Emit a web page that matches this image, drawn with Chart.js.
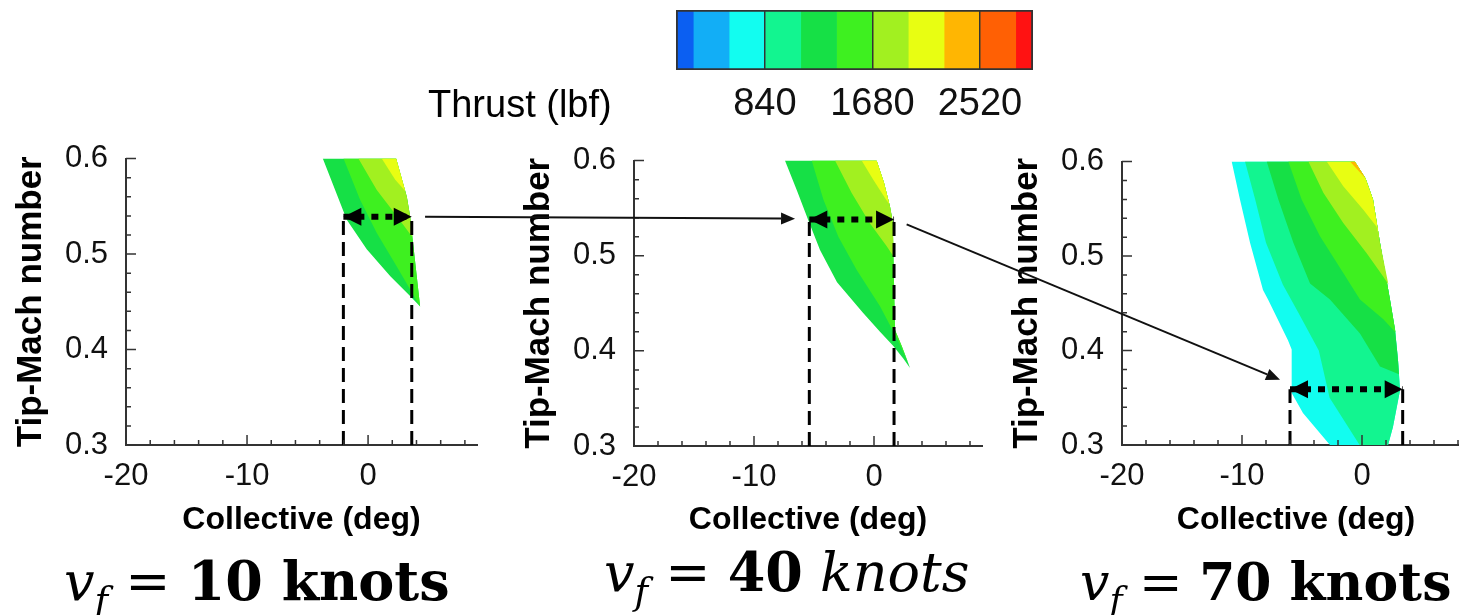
<!DOCTYPE html>
<html>
<head>
<meta charset="utf-8">
<script src="https://cdn.jsdelivr.net/npm/chart.js@4.4.1/dist/chart.umd.min.js"></script>
<style>
  html, body { margin: 0; padding: 0; background: #fff; }
  body { position: relative; width: 1459px; height: 615px; overflow: hidden; }
  canvas { position: absolute; }
  .lbl { position: absolute; white-space: nowrap; color: #000; }
  .vf { font-family: 'DejaVu Serif', serif; font-size: 54px; line-height: 1; }
  .vf sub { font-size: 0.68em; vertical-align: -0.35em; }
</style>
</head>
<body>
<canvas id="cbar" style="left:420px;top:0px" width="640" height="125"></canvas>
<div class="lbl" style="left:428px;top:83px;font:38px 'Liberation Sans', Arial, sans-serif;">Thrust (lbf)</div>

<canvas id="p1" style="left:0px;top:122px" width="490" height="418"></canvas>
<canvas id="p2" style="left:500px;top:124px" width="490" height="416"></canvas>
<canvas id="p3" style="left:1000px;top:125px" width="480" height="415"></canvas>
<canvas id="overlay" style="left:0px;top:0px;pointer-events:none" width="1459" height="615"></canvas>

<div class="lbl vf" style="left:64px;top:554px"><i>v</i><sub><i>f</i></sub> = <b>10 knots</b></div>
<div class="lbl vf" style="left:604px;top:545px"><i>v</i><sub><i>f</i></sub> = <b>40</b> <i>knots</i></div>
<div class="lbl vf" style="left:1080px;top:556px;font-size:52px"><i>v</i><sub><i>f</i></sub> = <b>70 knots</b></div>

<script>
Chart.defaults.font.family = "'Liberation Sans', Arial, sans-serif";

// colour legend (thrust, lbf)
const thrustEdges = [145, 280, 560, 840, 1120, 1400, 1680, 1960, 2240, 2520, 2800, 2935];
const thrustColors = ['#0b5ff2', '#12aef6', '#12fdf0', '#12f590', '#16e046', '#3ef020',
                      '#a2f020', '#e8fe12', '#ffb602', '#ff6004', '#ff1212'];
const thrustTicks = [840, 1680, 2520];

// axes
const xTicks = [-20, -10, 0];
const xMinor = [-18, -16, -14, -12, -8, -6, -4, -2, 2, 4, 6, 8];
const yTicks = [0.3, 0.4, 0.5, 0.6];
const yMinor = [0.32, 0.34, 0.36, 0.38, 0.42, 0.44, 0.46, 0.48, 0.52, 0.54, 0.56, 0.58];

// contour regions [collective, tip Mach] : region where thrust >= level
const p1Level4 = [[-3.74,0.6],[2.32,0.6],[3.2,0.56],[3.47,0.54],[4.3,0.445],[3.47,0.456],[1.82,0.477],[-0.11,0.505],[-1.76,0.536]];
const p1Level5 = [[-2.03,0.6],[2.32,0.6],[3.2,0.56],[3.47,0.54],[4.3,0.445],[2.37,0.487],[0.72,0.522],[-0.66,0.557]];
const p1Level6 = [[-0.8,0.6],[2.32,0.6],[3.2,0.56],[3.47,0.54],[3.65,0.518],[2.37,0.54],[0.72,0.567]];
const p1Level7 = [[1.13,0.6],[2.32,0.6],[3.07,0.566],[2.23,0.578]];

const p2Level4 = [[-7.42,0.6],[0.22,0.6],[0.83,0.577],[1.33,0.552],[1.56,0.536],[1.67,0.471],[1.75,0.422],[2.31,0.405],[2.86,0.387],[3.0,0.382],[2.44,0.392],[1.61,0.405],[0.5,0.42],[-0.92,0.44],[-3.08,0.472],[-4.5,0.506],[-5.5,0.538],[-6.44,0.569]];
const p2Level5 = [[-5.19,0.6],[0.22,0.6],[0.83,0.577],[1.33,0.552],[1.56,0.536],[1.67,0.471],[1.75,0.422],[2.31,0.405],[2.86,0.387],[2.0,0.411],[0.5,0.447],[-1.44,0.485],[-2.97,0.52],[-4.22,0.559]];
const p2Level6 = [[-3.25,0.6],[0.22,0.6],[0.83,0.577],[1.33,0.552],[1.56,0.536],[1.64,0.499],[1.06,0.51],[-0.33,0.534],[-1.86,0.566]];
const p2Level7 = [[-1.03,0.6],[0.22,0.6],[0.83,0.577],[1.28,0.554],[1.0,0.559],[-0.06,0.58]];

const p3Level2 = [[-10.86,0.6],[-0.6,0.6],[0.3,0.582],[0.92,0.56],[1.5,0.514],[2.33,0.454],[2.75,0.422],[3.0,0.39],[3.17,0.358],[2.58,0.319],[2.17,0.3],[-2.67,0.3],[-4.92,0.334],[-5.86,0.355],[-5.86,0.401],[-6.17,0.411],[-7.83,0.454],[-8.25,0.464],[-9.33,0.514],[-10.17,0.56]];
const p3Level3 = [[-9.75,0.6],[-0.6,0.6],[0.3,0.582],[0.92,0.56],[1.5,0.514],[2.33,0.454],[2.75,0.422],[3.0,0.39],[3.17,0.358],[2.58,0.319],[2.17,0.3],[-0.2,0.3],[-2.7,0.35],[-3.6,0.4],[-5.3,0.44],[-6.6,0.47],[-8.0,0.514],[-8.9,0.56]];
const p3Level4 = [[-7.94,0.6],[-0.6,0.6],[0.3,0.582],[0.92,0.56],[1.5,0.514],[2.33,0.454],[2.75,0.422],[3.0,0.39],[3.08,0.375],[1.5,0.383],[-0.17,0.418],[-2.67,0.454],[-4.33,0.471],[-5.72,0.514],[-6.97,0.56]];
const p3Level5 = [[-6.14,0.6],[-0.6,0.6],[0.3,0.582],[0.92,0.56],[1.5,0.514],[2.33,0.454],[2.8,0.419],[1.78,0.433],[-0.17,0.454],[-1.56,0.482],[-3.5,0.521],[-5.03,0.56]];
const p3Level6 = [[-4.47,0.6],[-0.6,0.6],[0.3,0.582],[0.92,0.56],[1.5,0.514],[2.2,0.47],[1.78,0.478],[0.39,0.503],[-1.56,0.535],[-3.22,0.567]];
const p3Level7 = [[-2.94,0.6],[-0.6,0.6],[0.3,0.582],[0.92,0.56],[1.45,0.518],[1.22,0.531],[0.11,0.549],[-1.56,0.574]];
const p3Level8 = [[-1.0,0.6],[-0.6,0.6],[0.3,0.582]];

// collective ranges marked at a given tip Mach
const p1Range = [-2.04, 3.61], p1Mach = 0.539;
const p2Range = [-5.39, 1.67], p2Mach = 0.538;
const p3Range = [-6.0, 3.39], p3Mach = 0.359;

// connector arrows between panels
const link1 = { from: [4.71, 0.539], to: [-6.58, 0.539] };
const link2 = { from: [2.72, 0.533], to: [-6.83, 0.369] };

const pts = arr => arr.map(p => ({ x: p[0], y: p[1] }));

function region(arr, level) {
  return {
    data: pts(arr), showLine: true, fill: 'shape', tension: 0,
    backgroundColor: thrustColors[level], borderColor: 'transparent', borderWidth: 1,
    pointRadius: 0, order: 20 - level
  };
}

function rangeMarks(range, mach) {
  return [
    { data: pts([[range[0], 0.3], [range[0], mach]]), showLine: true, borderColor: '#000',
      borderWidth: 3, borderDash: [14, 7], pointRadius: 0, order: 1 },
    { data: pts([[range[1], 0.3], [range[1], mach]]), showLine: true, borderColor: '#000',
      borderWidth: 3, borderDash: [14, 7], pointRadius: 0, order: 1 },
    { data: pts([[range[0], mach], [range[1], mach]]), showLine: true, borderColor: '#000',
      borderWidth: 6, borderDash: [7, 7], pointRadius: 0, order: 0, arrowHeads: true }
  ];
}

// inward tick marks like the original plotting tool
const tickMarks = {
  id: 'tickMarks',
  afterDraw(chart) {
    const { ctx, chartArea: a, scales: { x, y } } = chart;
    ctx.save();
    ctx.strokeStyle = '#333';
    ctx.lineWidth = 1.5;
    ctx.beginPath();
    const xt = (v, len) => { const px = x.getPixelForValue(v); ctx.moveTo(px, a.bottom); ctx.lineTo(px, a.bottom - len); };
    const yt = (v, len) => { const py = y.getPixelForValue(v); ctx.moveTo(a.left, py); ctx.lineTo(a.left + len, py); };
    xTicks.forEach(v => xt(v, 10));
    xMinor.forEach(v => xt(v, 5));
    yTicks.forEach(v => yt(v, 10));
    yMinor.forEach(v => yt(v, 5));
    ctx.stroke();
    ctx.restore();
  }
};

// filled heads on both ends of the range arrows
const arrowHeads = {
  id: 'arrowHeads',
  afterDatasetsDraw(chart) {
    const ctx = chart.ctx;
    chart.data.datasets.forEach((ds, i) => {
      if (!ds.arrowHeads) return;
      const el = chart.getDatasetMeta(i).data;
      const a = el[0], b = el[el.length - 1];
      const L = 18, W = 9;
      ctx.save();
      ctx.fillStyle = '#000';
      [[a, 1], [b, -1]].forEach(([p, dir]) => {
        ctx.beginPath();
        ctx.moveTo(p.x, p.y);
        ctx.lineTo(p.x + dir * L, p.y - W);
        ctx.lineTo(p.x + dir * L, p.y + W);
        ctx.closePath();
        ctx.fill();
      });
      ctx.restore();
    });
  }
};

function panel(id, levels, range, mach, cfg) {
  const datasets = levels.map(([arr, lv]) => region(arr, lv)).concat(rangeMarks(range, mach));
  return new Chart(document.getElementById(id), {
    type: 'scatter',
    data: { datasets },
    options: {
      responsive: false, animation: false, devicePixelRatio: 1,
      layout: { padding: { left: 0, right: cfg.padRight, top: 0, bottom: 0 } },
      plugins: { legend: { display: false }, tooltip: { enabled: false } },
      scales: {
        x: {
          type: 'linear', min: -20, max: 9,
          afterBuildTicks: s => { s.ticks = xTicks.map(v => ({ value: v })); },
          afterFit: s => { s.height = cfg.xHeight; },
          grid: { drawOnChartArea: false, drawTicks: false },
          border: { display: true, color: '#333', width: 2 },
          ticks: { color: '#111', font: { size: 31 }, padding: 13, maxRotation: 0, autoSkip: false,
                   callback: v => String(v) },
          title: { display: true, text: 'Collective (deg)', color: '#000',
                   font: { size: 32, weight: 'bold' }, padding: { top: 0, bottom: 1 } }
        },
        y: {
          type: 'linear', min: 0.3, max: 0.6,
          afterBuildTicks: s => { s.ticks = yTicks.map(v => ({ value: v })); },
          afterFit: s => { s.width = cfg.yWidth; },
          grid: { drawOnChartArea: false, drawTicks: false },
          border: { display: true, color: '#333', width: 2 },
          ticks: { color: '#111', font: { size: 31 }, padding: 18, autoSkip: false,
                   callback: v => v.toFixed(1) },
          title: { display: true, text: 'Tip-Mach number', color: '#000',
                   font: { size: 35, weight: 'bold' }, padding: { top: cfg.titlePad, bottom: 0 } }
        }
      }
    },
    plugins: [tickMarks, arrowHeads]
  });
}

const chart1 = panel('p1', [[p1Level4, 4], [p1Level5, 5], [p1Level6, 6], [p1Level7, 7]], p1Range, p1Mach,
  { yWidth: 126, padRight: 13, xHeight: 95, titlePad: 10 });
const chart2 = panel('p2', [[p2Level4, 4], [p2Level5, 5], [p2Level6, 6], [p2Level7, 7]], p2Range, p2Mach,
  { yWidth: 134, padRight: 8, xHeight: 94, titlePad: 18 });
const chart3 = panel('p3', [[p3Level2, 2], [p3Level3, 3], [p3Level4, 4], [p3Level5, 5], [p3Level6, 6], [p3Level7, 7], [p3Level8, 8]], p3Range, p3Mach,
  { yWidth: 122, padRight: 10, xHeight: 95, titlePad: 6 });

// colour bar
const cbDatasets = [{
  data: [[thrustEdges[0], thrustEdges[thrustEdges.length - 1]]],
  backgroundColor: 'transparent', borderColor: '#333', borderWidth: 1.5, borderSkipped: false,
  barPercentage: 1, categoryPercentage: 1, grouped: false
}].concat(thrustColors.map((c, i) => ({
  data: [[thrustEdges[i], thrustEdges[i + 1]]],
  backgroundColor: c, borderWidth: 0, barPercentage: 1, categoryPercentage: 1, grouped: false
})));

new Chart(document.getElementById('cbar'), {
  type: 'bar',
  data: { labels: [''], datasets: cbDatasets },
  options: {
    indexAxis: 'y', responsive: false, animation: false, devicePixelRatio: 1,
    layout: { padding: { left: 256, right: 27, top: 10, bottom: 0 } },
    plugins: { legend: { display: false }, tooltip: { enabled: false } },
    scales: {
      x: {
        type: 'linear', min: thrustEdges[0], max: thrustEdges[thrustEdges.length - 1],
        afterBuildTicks: s => { s.ticks = thrustTicks.map(v => ({ value: v })); },
        afterFit: s => { s.height = 55; },
        grid: { drawOnChartArea: true, drawTicks: false, color: '#333', lineWidth: 1.5, z: 1 },
        border: { display: false },
        ticks: { color: '#111', font: { size: 38 }, padding: 12, autoSkip: false, maxRotation: 0,
                 callback: v => String(v) }
      },
      y: { display: false }
    }
  }
});

// arrows linking the panels
function pagePos(chart, v) {
  const c = chart.canvas;
  return [c.offsetLeft + chart.scales.x.getPixelForValue(v[0]),
          c.offsetTop + chart.scales.y.getPixelForValue(v[1])];
}
function drawLink(ctx, a, b) {
  const ang = Math.atan2(b[1] - a[1], b[0] - a[0]);
  const L = 14, W = 6;
  const bx = b[0] - L * Math.cos(ang), by = b[1] - L * Math.sin(ang);
  ctx.beginPath();
  ctx.moveTo(a[0], a[1]);
  ctx.lineTo(bx, by);
  ctx.stroke();
  ctx.beginPath();
  ctx.moveTo(b[0], b[1]);
  ctx.lineTo(bx + W * Math.sin(ang), by - W * Math.cos(ang));
  ctx.lineTo(bx - W * Math.sin(ang), by + W * Math.cos(ang));
  ctx.closePath();
  ctx.fill();
}
const octx = document.getElementById('overlay').getContext('2d');
octx.strokeStyle = '#111';
octx.fillStyle = '#111';
octx.lineWidth = 2;
drawLink(octx, pagePos(chart1, link1.from), pagePos(chart2, link1.to));
drawLink(octx, pagePos(chart2, link2.from), pagePos(chart3, link2.to));
</script>
</body>
</html>
